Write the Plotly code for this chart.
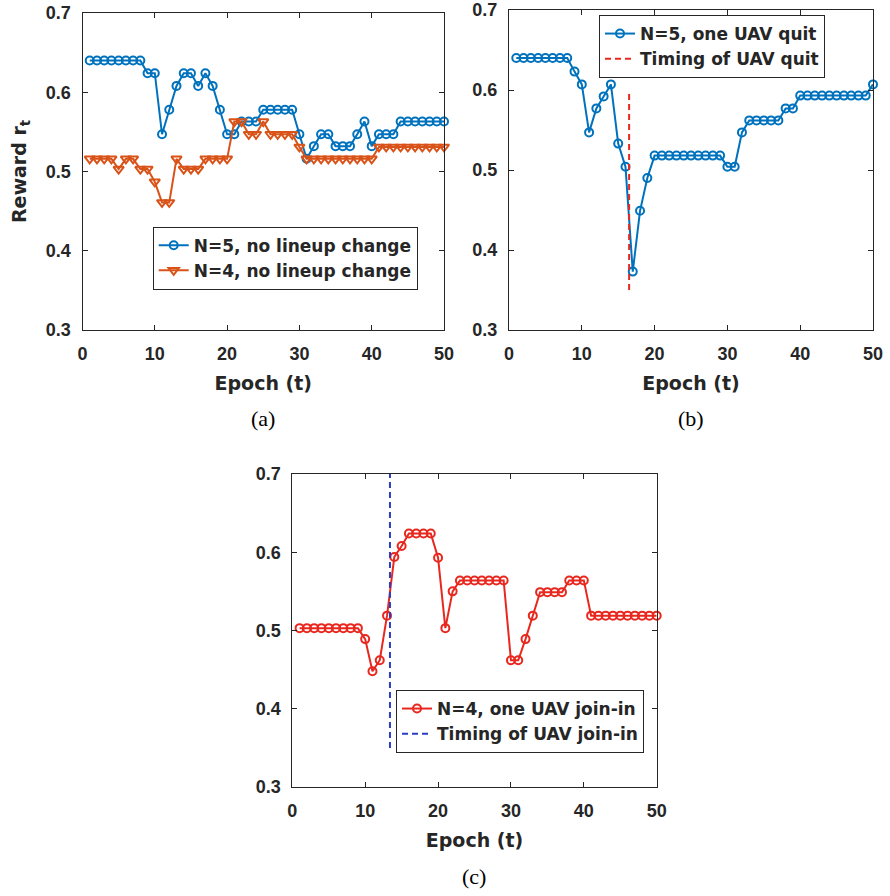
import plotly.graph_objects as go

# ---- data -------------------------------------------------------------
epochs = list(range(1, 51))

# (a) no lineup change
reward_n5_static = [0.640] * 8 + [0.624] * 2 + [0.547, 0.578, 0.608] + [0.624] * 2 + \
    [0.608, 0.624, 0.608, 0.578] + [0.547] * 2 + [0.563] * 3 + [0.578] * 5 + \
    [0.547, 0.516, 0.532] + [0.547] * 2 + [0.532] * 3 + [0.547, 0.563, 0.532] + \
    [0.547] * 3 + [0.563] * 7
reward_n4_static = [0.516] * 4 + [0.503] + [0.516] * 2 + [0.503] * 2 + [0.487] + \
    [0.461] * 2 + [0.516] + [0.503] * 3 + [0.516] * 4 + [0.563] * 2 + [0.547] * 2 + \
    [0.563] + [0.547] * 4 + [0.531] + [0.516] * 10 + [0.531] * 10

# (b) N=5, one UAV quits
reward_n5_quit = [0.640] * 8 + [0.623, 0.607, 0.547, 0.577, 0.592, 0.607, 0.533,
                                0.504, 0.373, 0.449, 0.490] + [0.518] * 10 + \
    [0.504] * 2 + [0.547] + [0.562] * 5 + [0.577] * 2 + [0.593] * 10 + [0.607]
quit_epoch = 16.5
quit_span = [0.35, 0.60]

# (c) N=4, one UAV joins
reward_n4_join = [0.503] * 9 + [0.489, 0.448, 0.462, 0.519, 0.594, 0.608] + \
    [0.624] * 4 + [0.593, 0.503, 0.550] + [0.564] * 7 + [0.462] * 2 + \
    [0.489, 0.519] + [0.549] * 4 + [0.564] * 3 + [0.519] * 10
join_epoch = 13.4
join_span = [0.35, 0.70]

x_ticks = [0, 10, 20, 30, 40, 50]
y_ticks = [0.3, 0.4, 0.5, 0.6, 0.7]

# ---- styling ----------------------------------------------------------
W, H = 890, 896
AX = "#262626"
BLUE = "#0072BD"
ORANGE = "#D95319"
RED = "#E8281E"
DBLUE = "#2B3DC2"
DASH = "6px,4px"

TICK_FONT = dict(family="Liberation Sans, Arial", size=18, color=AX, weight="bold")
TITLE_FONT = dict(family="DejaVu Sans", size=19, color=AX, weight="bold")
LEG_FONT = dict(family="DejaVu Sans", size=17, color=AX, weight="bold")
CAP_FONT = dict(family="Liberation Serif, Times New Roman", size=22, color="black")


def px_dom_x(x0, x1):
    return [x0 / W, x1 / W]


def px_dom_y(top, bottom):
    return [1 - bottom / H, 1 - top / H]


def axis(domain, anchor, rng, vals, fmt, title=None, standoff=None):
    d = dict(domain=domain, anchor=anchor, range=rng, tickvals=vals,
             ticktext=[fmt.format(v) for v in vals],
             showline=True, linecolor=AX, linewidth=1, mirror="ticks",
             ticks="inside", ticklen=5, tickwidth=1, tickcolor=AX,
             showgrid=False, zeroline=False, tickfont=TICK_FONT,
             automargin=False, ticklabelstandoff=7)
    if title is not None:
        d["title"] = dict(text=title, font=TITLE_FONT, standoff=standoff)
    return d


fig = go.Figure()

# (a)
fig.add_trace(go.Scatter(
    x=epochs, y=reward_n5_static, name="N=5, no lineup change",
    mode="lines+markers", xaxis="x", yaxis="y", legend="legend",
    line=dict(color=BLUE, width=2),
    marker=dict(symbol="circle-open", size=8, color=BLUE, line=dict(width=2)),
    cliponaxis=False))
fig.add_trace(go.Scatter(
    x=epochs, y=reward_n4_static, name="N=4, no lineup change",
    mode="lines+markers", xaxis="x", yaxis="y", legend="legend",
    line=dict(color=ORANGE, width=2),
    marker=dict(symbol="triangle-down-open", size=9, color=ORANGE, line=dict(width=2)),
    cliponaxis=False))

# (b)
fig.add_trace(go.Scatter(
    x=epochs, y=reward_n5_quit, name="N=5, one UAV quit",
    mode="lines+markers", xaxis="x2", yaxis="y2", legend="legend2",
    line=dict(color=BLUE, width=2),
    marker=dict(symbol="circle-open", size=8, color=BLUE, line=dict(width=2)),
    cliponaxis=False))
fig.add_trace(go.Scatter(
    x=[quit_epoch, quit_epoch], y=quit_span, name="Timing of UAV quit",
    mode="lines", xaxis="x2", yaxis="y2", legend="legend2",
    line=dict(color=RED, width=2, dash=DASH)))

# (c)
fig.add_trace(go.Scatter(
    x=epochs, y=reward_n4_join, name="N=4, one UAV join-in",
    mode="lines+markers", xaxis="x3", yaxis="y3", legend="legend3",
    line=dict(color=RED, width=2),
    marker=dict(symbol="circle-open", size=8, color=RED, line=dict(width=2)),
    cliponaxis=False))
fig.add_trace(go.Scatter(
    x=[join_epoch, join_epoch], y=join_span, name="Timing of UAV join-in",
    mode="lines", xaxis="x3", yaxis="y3", legend="legend3",
    line=dict(color=DBLUE, width=2, dash=DASH)))

dom_a = (px_dom_x(82.5, 444), px_dom_y(13, 330))
dom_b = (px_dom_x(509, 873), px_dom_y(10, 330))
dom_c = (px_dom_x(292.3, 656.7), px_dom_y(474, 787))


def legend(x_px, y_px):
    return dict(x=x_px / W, y=1 - y_px / H, xanchor="left", yanchor="top",
                bgcolor="white", bordercolor=AX, borderwidth=1, font=LEG_FONT,
                itemwidth=30, tracegroupgap=0)


fig.update_layout(
    width=W, height=H, template="none",
    margin=dict(l=0, r=0, t=0, b=0),
    paper_bgcolor="white", plot_bgcolor="white",
    showlegend=True,
    xaxis=axis(dom_a[0], "y", [0, 50], x_ticks, "{:d}", "Epoch (t)", 14),
    yaxis=axis(dom_a[1], "x", [0.3, 0.7], y_ticks, "{:.1f}", "Reward r<sub>t</sub>", 14),
    xaxis2=axis(dom_b[0], "y2", [0, 50], x_ticks, "{:d}", "Epoch (t)", 14),
    yaxis2=axis(dom_b[1], "x2", [0.3, 0.7], y_ticks, "{:.1f}"),
    xaxis3=axis(dom_c[0], "y3", [0, 50], x_ticks, "{:d}", "Epoch (t)", 14),
    yaxis3=axis(dom_c[1], "x3", [0.3, 0.7], y_ticks, "{:.1f}"),
    legend=legend(152.7, 226.7),
    legend2=legend(599, 15),
    legend3=legend(396, 690),
    annotations=[
        dict(text="(a)", x=263 / W, y=1 - 418 / H, xref="paper", yref="paper",
             showarrow=False, font=CAP_FONT, xanchor="center", yanchor="middle"),
        dict(text="(b)", x=691 / W, y=1 - 418 / H, xref="paper", yref="paper",
             showarrow=False, font=CAP_FONT, xanchor="center", yanchor="middle"),
        dict(text="(c)", x=474 / W, y=1 - 876 / H, xref="paper", yref="paper",
             showarrow=False, font=CAP_FONT, xanchor="center", yanchor="middle"),
    ],
)

fig.write_html("out.html")
